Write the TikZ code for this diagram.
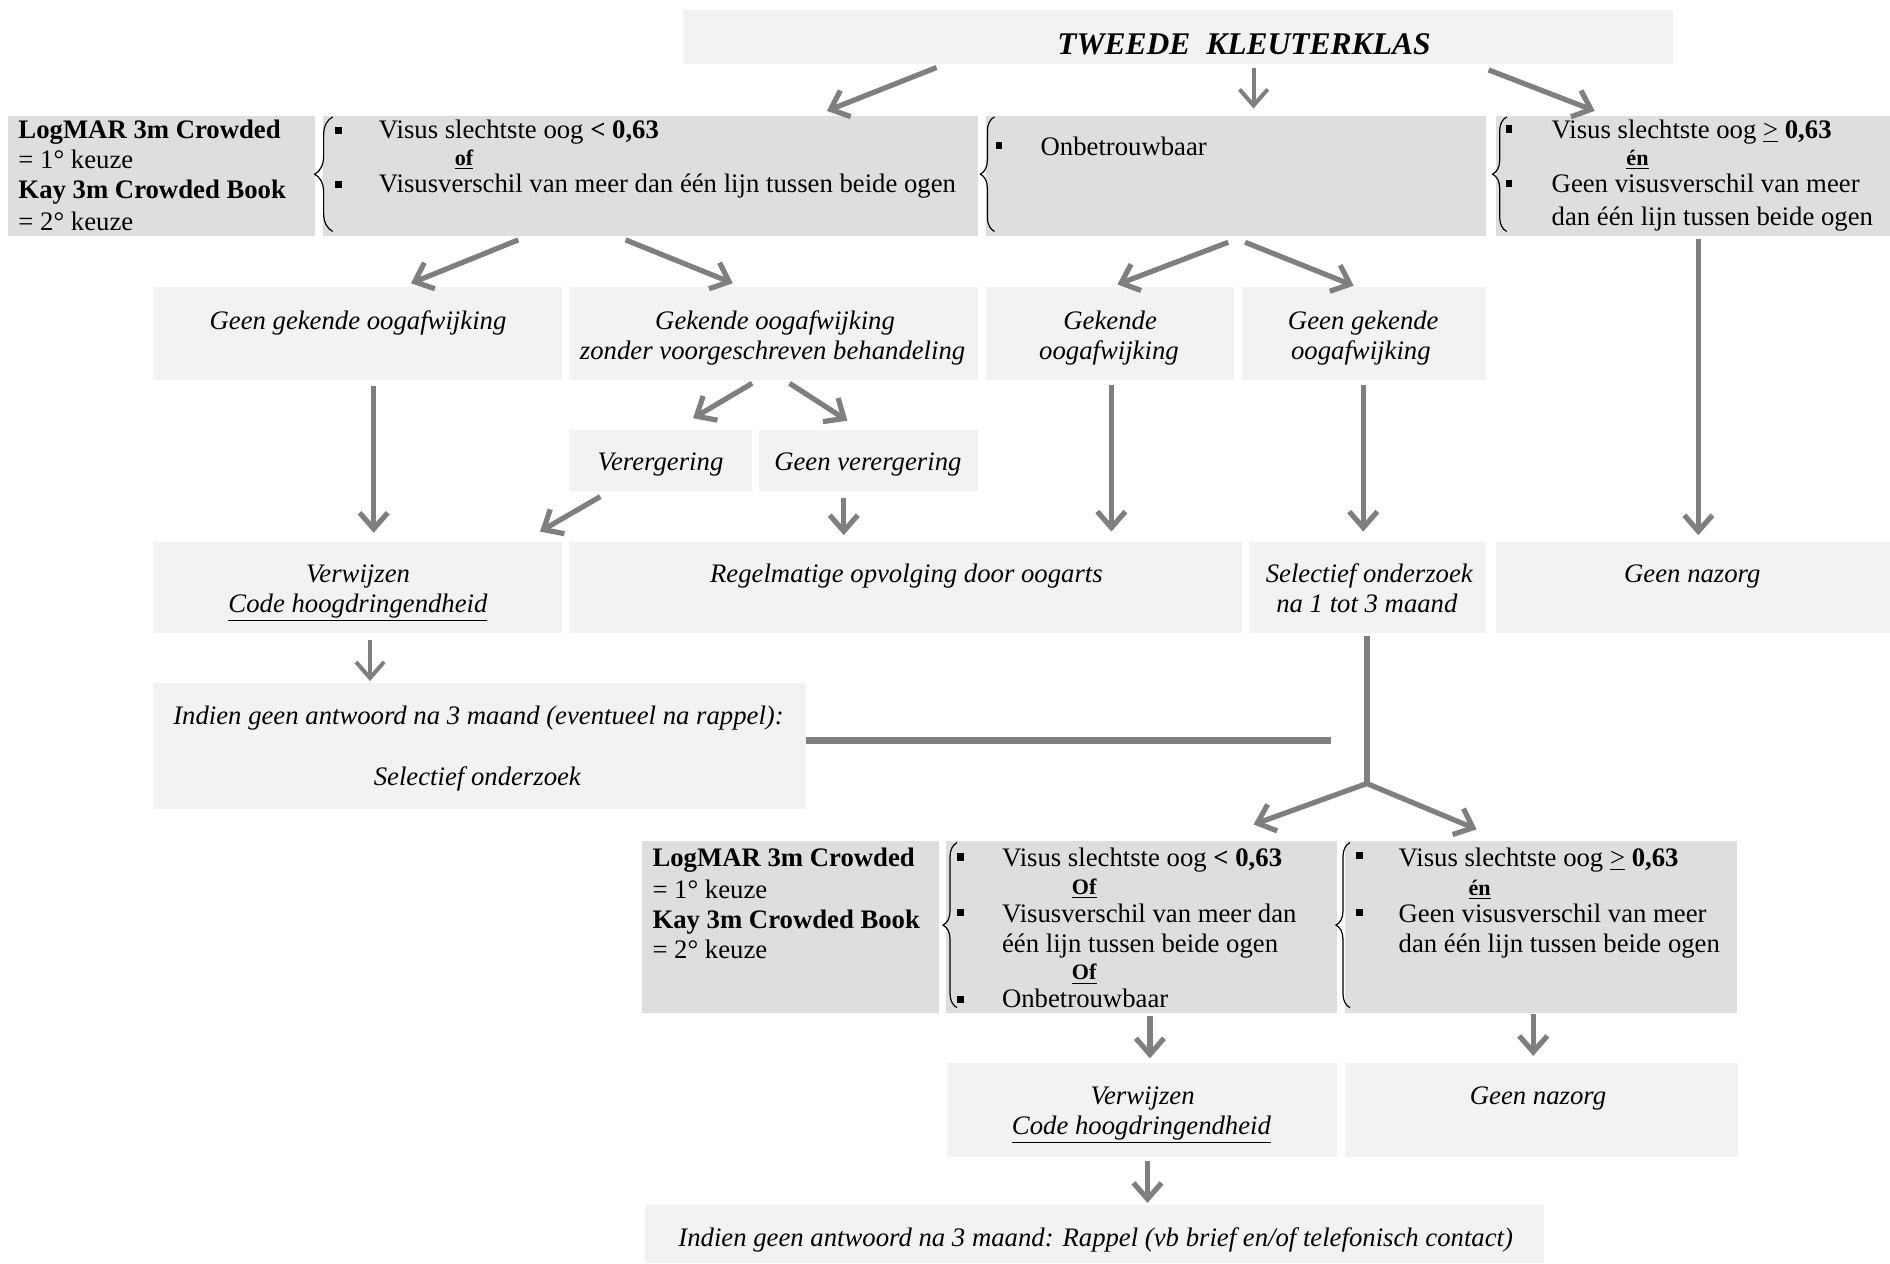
\documentclass[tikz,border=0pt]{standalone}
\usepackage{fontspec}
\setmainfont{Liberation Serif}
\usetikzlibrary{arrows.meta,calc,fit,decorations.pathreplacing}
\definecolor{lightbox}{HTML}{F2F2F2}
\definecolor{darkbox}{HTML}{DEDEDE}
\definecolor{arrowgray}{HTML}{7F7F7F}
\begin{document}
\begin{tikzpicture}[x=0.6pt,y=-0.6pt,
  panel/.style={inner sep=0pt, outer sep=0pt, draw=none},
  lbox/.style={panel, fill=lightbox},
  dbox/.style={panel, fill=darkbox},
  txtl/.style={inner sep=0pt, anchor=base west, font=\fontsize{13.3}{15}\selectfont},
  txtc/.style={inner sep=0pt, anchor=base, font=\fontsize{13.3}{15}\selectfont\itshape},
  conj/.style={inner sep=0pt, anchor=base west, font=\fontsize{11}{13}\selectfont\bfseries},
  bul/.style={rectangle, fill=black, minimum width=3.2pt, minimum height=3.6pt, inner sep=0pt},
  curly/.style={draw=black, line width=0.6pt, decorate, decoration={brace, amplitude=7pt}},
  arr/.style={draw=arrowgray, line width=2.6pt, -{Straight Barb[length=8pt,width=14pt]}},
  arrthin/.style={arr, line width=2pt},
  link/.style={draw=arrowgray, line width=2.6pt},
  bar/.style={draw=arrowgray, line width=3.4pt},
]
\useasboundingbox (0,0) rectangle (1568,1048);

% ---------- boxes ----------
\node[lbox, fit={(567,8) (1388,53)}] (title) {};
\node[dbox, fit={(7,96) (261,196)}] (A) {};
\node[dbox, fit={(268,96) (811,196)}] (B) {};
\node[dbox, fit={(818,96) (1233,196)}] (C) {};
\node[dbox, fit={(1241,96) (1568,196)}] (D) {};
\node[lbox, fit={(127,238) (466,315)}] (E) {};
\node[lbox, fit={(472,238) (811,315)}] (F) {};
\node[lbox, fit={(818,238) (1024,315)}] (G) {};
\node[lbox, fit={(1030,238) (1233,315)}] (H) {};
\node[lbox, fit={(472,357) (624,407)}] (I) {};
\node[lbox, fit={(630,357) (811,407)}] (J) {};
\node[lbox, fit={(127,450) (466,525)}] (K) {};
\node[lbox, fit={(472,450) (1030,525)}] (L) {};
\node[lbox, fit={(1036,450) (1233,525)}] (M) {};
\node[lbox, fit={(1241,450) (1568,525)}] (N) {};
\node[lbox, fit={(127,567) (669,671)}] (O) {};
\node[dbox, fit={(533,698) (779,840)}] (P) {};
\node[dbox, fit={(785,698) (1109,840)}] (Q) {};
\node[dbox, fit={(1116,698) (1441,840)}] (R) {};
\node[lbox, fit={(786,882) (1109,960)}] (S) {};
\node[lbox, fit={(1116,882) (1442,960)}] (T) {};
\node[lbox, fit={(535,1000) (1281,1048)}] (U) {};

% ---------- texts ----------
\node[inner sep=0pt, anchor=base, font=\fontsize{15.7}{18}\selectfont\bfseries\itshape] (tT) at (1032,45) {TWEEDE\ \ KLEUTERKLAS};

\node[txtl] (tA1) at (15,115) {\textbf{LogMAR 3m Crowded}};
\node[txtl] (tA2) at (15,140) {= 1° keuze};
\node[txtl] (tA3) at (15,165) {\textbf{Kay 3m Crowded Book}};
\node[txtl] (tA4) at (15,191) {= 2° keuze};

\node[txtl] (tB1) at (314,115) {Visus slechtste oog \textbf{< 0,63}};
\node[conj] (tB2) at (377,137) {\underline{of}};
\node[txtl] (tB3) at (314,160) {Visusverschil van meer dan één lijn tussen beide ogen};

\node[txtl] (tC1) at (863,129) {Onbetrouwbaar};

\node[txtl] (tD1) at (1287,115) {Visus slechtste oog \underline{>} \textbf{0,63}};
\node[conj] (tD2) at (1349,137) {\underline{én}};
\node[txtl] (tD3) at (1287,160) {Geen visusverschil van meer};
\node[txtl] (tD4) at (1287,187) {dan één lijn tussen beide ogen};

\node[txtc] (tE1) at (297,273) {Geen gekende oogafwijking};
\node[txtc] (tF1) at (643,273) {Gekende oogafwijking};
\node[txtc] (tF2) at (641,298) {zonder voorgeschreven behandeling};
\node[txtc] (tG1) at (921,273) {Gekende};
\node[txtc] (tG2) at (920,298) {oogafwijking};
\node[txtc] (tH1) at (1131,273) {Geen gekende};
\node[txtc] (tH2) at (1129,298) {oogafwijking};
\node[txtc] (tI1) at (548,390) {Verergering};
\node[txtc] (tJ1) at (720,390) {Geen verergering};
\node[txtc] (tK1) at (297,483) {Verwijzen};
\node[txtc] (tK2) at (297,508) {\underline{Code hoogdringendheid}};
\node[txtc] (tL1) at (752,483) {Regelmatige opvolging door oogarts};
\node[txtc] (tM1) at (1136,483) {Selectief onderzoek};
\node[txtc] (tM2) at (1134,508) {na 1 tot 3 maand};
\node[txtc] (tN1) at (1404,483) {Geen nazorg};
\node[txtc] (tO1) at (397,601) {Indien geen antwoord na 3 maand (eventueel na rappel):};
\node[txtc] (tO2) at (396,652) {Selectief onderzoek};

\node[txtl] (tP1) at (541,719) {\textbf{LogMAR 3m Crowded}};
\node[txtl] (tP2) at (541,745) {= 1° keuze};
\node[txtl] (tP3) at (541,770) {\textbf{Kay 3m Crowded Book}};
\node[txtl] (tP4) at (541,795) {= 2° keuze};

\node[txtl] (tQ1) at (831,719) {Visus slechtste oog \textbf{< 0,63}};
\node[conj] (tQ2) at (889,742) {\underline{Of}};
\node[txtl] (tQ3) at (831,765) {Visusverschil van meer dan};
\node[txtl] (tQ4) at (831,790) {één lijn tussen beide ogen};
\node[conj] (tQ5) at (889,813) {\underline{Of}};
\node[txtl] (tQ6) at (831,836) {Onbetrouwbaar};

\node[txtl] (tR1) at (1160,719) {Visus slechtste oog \underline{>} \textbf{0,63}};
\node[conj] (tR2) at (1218,743) {\underline{én}};
\node[txtl] (tR3) at (1160,765) {Geen visusverschil van meer};
\node[txtl] (tR4) at (1160,790) {dan één lijn tussen beide ogen};

\node[txtc] (tS1) at (948,916) {Verwijzen};
\node[txtc] (tS2) at (947,941) {\underline{Code hoogdringendheid}};
\node[txtc] (tT1) at (1276,916) {Geen nazorg};
\node[txtc] (tU1) at (909,1034) {Indien geen antwoord na 3 maand: Rappel (vb brief en/of telefonisch contact)};

% ---------- bullets ----------
\node[bul] (bB1) at (281,108) {};
\node[bul] (bB2) at (281,153) {};
\node[bul] (bC1) at (829,121) {};
\node[bul] (bD1) at (1252,107) {};
\node[bul] (bD2) at (1252,152) {};
\node[bul] (bQ1) at (797,711) {};
\node[bul] (bQ2) at (797,757) {};
\node[bul] (bQ3) at (797,829) {};
\node[bul] (bR1) at (1128,710) {};
\node[bul] (bR2) at (1128,757) {};

% ---------- braces ----------
\draw[curly, decoration={amplitude=9pt}] ($(B.south west)+(8,-4)$) -- ($(B.north west)+(8,1)$);
\draw[curly] ($(C.south west)+(7,-4)$) -- ($(C.north west)+(7,1)$);
\draw[curly] ($(D.south west)+(9,-4)$) -- ($(D.north west)+(9,1)$);
\draw[curly] ($(Q.south west)+(9,-4)$) -- ($(Q.north west)+(9,1)$);
\draw[curly] ($(R.south west)+(4,-4)$) -- ($(R.north west)+(4,1)$);

% ---------- connectors ----------
\draw[arr] ($(title.south west)+(210,3)$) -- ($(B.north west)+(418,-4)$);
\draw[arrthin] ($(title.south west)+(473,3)$) -- ($(C.north west)+(222,-6)$);
\draw[arr] ($(title.south west)+(668,5)$) -- ($(D.north west)+(82,-4)$);

\draw[arr] ($(B.south west)+(162,3)$) -- ($(E.north west)+(214,-3)$);
\draw[arr] ($(B.south west)+(251,3)$) -- ($(F.north west)+(136,-3)$);
\draw[arr] ($(C.south west)+(201,5)$) -- ($(G.north west)+(109,-2)$);
\draw[arr] ($(C.south west)+(215,5)$) -- ($(H.north west)+(93,-1)$);
\draw[arr] ($(D.south west)+(168,2)$) -- ($(N.north west)+(168,-6)$);

\draw[arr] ($(E.south west)+(183,5)$) -- ($(K.north west)+(183,-8)$);
\draw[arr] ($(F.south west)+(152,3)$) -- ($(I.north west)+(103,-10)$);
\draw[arr] ($(F.south west)+(183,3)$) -- ($(J.north west)+(73,-8)$);
\draw[arr] ($(I.south west)+(26,5)$) -- ($(K.north west)+(321,-9)$);
\draw[arr] ($(J.south west)+(70,6)$) -- ($(L.north west)+(228,-6)$);
\draw[arr] ($(G.south west)+(104,4)$) -- ($(L.north west)+(450,-9)$);
\draw[arr] ($(H.south west)+(101,4)$) -- ($(M.north west)+(95,-9)$);

\draw[arrthin] ($(K.south west)+(180,6)$) -- ($(O.north west)+(180,-2)$);

\coordinate (split) at ($(M.south west)+(98,125)$);
\draw[link] ($(M.south west)+(98,3)$) -- (split);
\draw[arr] (split) -- ($(Q.north west)+(255,-14)$);
\draw[arr] (split) -- ($(R.north west)+(109,-10)$);

\coordinate (barend) at (1104,614);
\draw[bar] ($(O.east)+(0,-5)$) -- (barend);

\draw[arr] ($(Q.south west)+(169,3)$) -- ($(S.north west)+(168,-4)$);
\draw[arr] ($(R.south west)+(156,1)$) -- ($(T.north west)+(156,-6)$);
\draw[arr] ($(S.south west)+(166,3)$) -- ($(U.north west)+(417,-2)$);
\end{tikzpicture}
\end{document}
